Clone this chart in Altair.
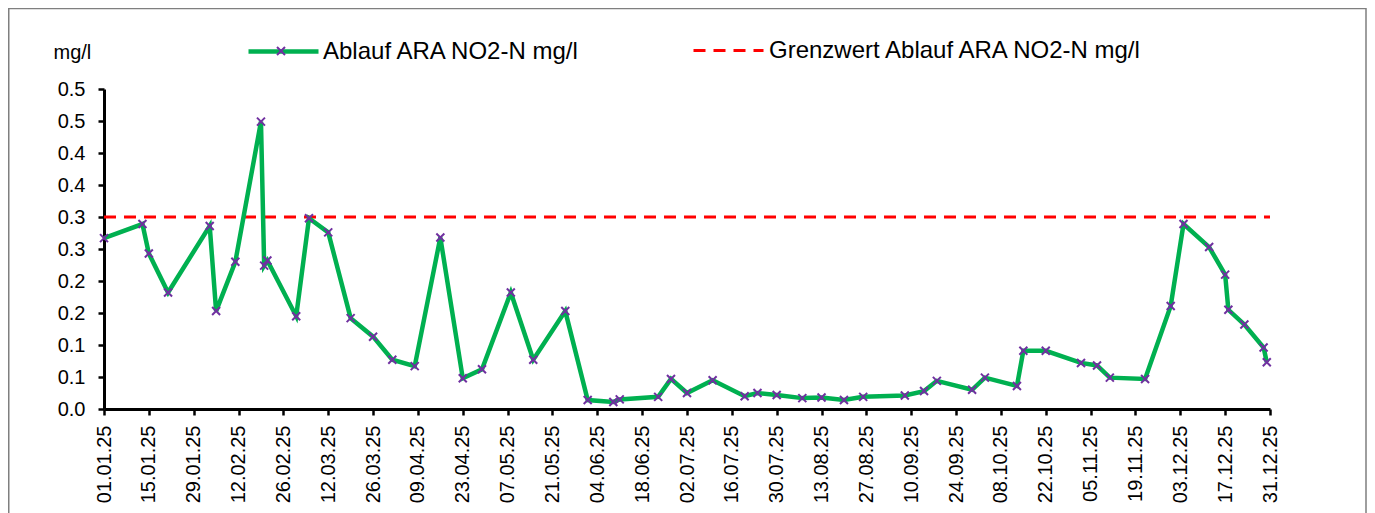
import altair as alt
import pandas as pd

# ---------------- data ----------------
dates = [
    "2025-01-01", "2025-01-13", "2025-01-15", "2025-01-21", "2025-02-03", "2025-02-05",
    "2025-02-11", "2025-02-19", "2025-02-20", "2025-02-21", "2025-03-02", "2025-03-06",
    "2025-03-12", "2025-03-19", "2025-03-26", "2025-04-01", "2025-04-08", "2025-04-16",
    "2025-04-23", "2025-04-29", "2025-05-08", "2025-05-15", "2025-05-25", "2025-06-01",
    "2025-06-09", "2025-06-11", "2025-06-23", "2025-06-27", "2025-07-02", "2025-07-10",
    "2025-07-20", "2025-07-24", "2025-07-30", "2025-08-07", "2025-08-13", "2025-08-20",
    "2025-08-26", "2025-09-08", "2025-09-14", "2025-09-18", "2025-09-29", "2025-10-03",
    "2025-10-13", "2025-10-15", "2025-10-22", "2025-11-02", "2025-11-07", "2025-11-11",
    "2025-11-22", "2025-11-30", "2025-12-04", "2025-12-12", "2025-12-17", "2025-12-18",
    "2025-12-23", "2025-12-29", "2025-12-30",
]
values = [
    0.267, 0.289, 0.243, 0.182, 0.286, 0.153, 0.230, 0.449, 0.224, 0.232,
    0.145, 0.298, 0.276, 0.142, 0.113, 0.077, 0.067, 0.268, 0.048, 0.062,
    0.182, 0.077, 0.153, 0.014, 0.011, 0.015, 0.019, 0.047, 0.025, 0.045,
    0.020, 0.025, 0.022, 0.017, 0.018, 0.014, 0.019, 0.021, 0.028, 0.044,
    0.030, 0.049, 0.036, 0.091, 0.091, 0.072, 0.068, 0.049, 0.047, 0.161,
    0.289, 0.253, 0.210, 0.155, 0.132, 0.096, 0.073,
]
limit_dates = ["2025-01-01", "2025-12-31"]
limit_values = [0.3, 0.3]

series_name = "Ablauf ARA NO2-N mg/l"
limit_name = "Grenzwert Ablauf ARA NO2-N mg/l"
y_title = "mg/l"

x_tick_labels = [
    "01.01.25", "15.01.25", "29.01.25", "12.02.25", "26.02.25", "12.03.25", "26.03.25",
    "09.04.25", "23.04.25", "07.05.25", "21.05.25", "04.06.25", "18.06.25", "02.07.25",
    "16.07.25", "30.07.25", "13.08.25", "27.08.25", "10.09.25", "24.09.25", "08.10.25",
    "22.10.25", "05.11.25", "19.11.25", "03.12.25", "17.12.25", "31.12.25",
]
y_ticks = [0.0, 0.05, 0.1, 0.15, 0.2, 0.25, 0.3, 0.35, 0.4, 0.45, 0.5]

# ---------------- helpers ----------------
def to_dt(lbl):
    d, m, y = lbl.split(".")
    return alt.DateTime(year=2000 + int(y), month=int(m), date=int(d), utc=True)

x_values = [to_dt(l) for l in x_tick_labels]

FONT = "Liberation Sans"
GREEN = "#00B050"
PURPLE = "#7030A0"
RED = "#FF0000"
XPATH = "M-1,-1L1,1M-1,1L1,-1"

df = pd.DataFrame({"date": dates, "value": values})
df["s1"] = series_name
df["s3"] = series_name
limit_df = pd.DataFrame({"date": limit_dates, "value": limit_values, "s2": limit_name})
frame_df = pd.DataFrame({"a": [0]})

x_enc = alt.X(
    "date:T",
    scale=alt.Scale(type="utc", domain=[to_dt(x_tick_labels[0]), to_dt(x_tick_labels[-1])]),
    axis=alt.Axis(
        values=x_values, format="%d.%m.%y", labelAngle=-90, labelFontSize=20,
        labelPadding=10, tickSize=6, tickWidth=2.5, domainWidth=3, title=None,
        grid=False, labelOverlap=False, labelColor="black", domainColor="black",
        tickColor="black", labelFont=FONT,
    ),
)
y_enc = alt.Y(
    "value:Q",
    scale=alt.Scale(domain=[0, 0.5], nice=False),
    axis=alt.Axis(
        values=y_ticks,
        labelExpr="format(round(datum.value*10+1e-6)/10, '.1f')",
        title=y_title, titleAngle=0, titleX=-51, titleY=-37, titleAlign="left",
        titleBaseline="middle", titleFontSize=20, titleFontWeight="normal",
        titleColor="black", titleFont=FONT,
        labelFontSize=20, labelPadding=13, tickSize=6, tickWidth=2.5, domainWidth=3,
        grid=False, labelColor="black", domainColor="black", tickColor="black",
        labelFont=FONT,
    ),
)

frame = alt.Chart(frame_df).mark_rect(
    fillOpacity=0, stroke="#7f7f7f", strokeWidth=1.5
).encode(
    x=alt.value(-95.25), x2=alt.value(1262), y=alt.value(-80.5), y2=alt.value(700)
)

limit = alt.Chart(limit_df).mark_line(color=RED, strokeWidth=3).encode(
    x=x_enc, y=y_enc,
    strokeDash=alt.StrokeDash(
        "s2:N",
        scale=alt.Scale(domain=[limit_name], range=[[12, 8]]),
        legend=alt.Legend(
            orient="none", legendX=588, legendY=-75, title=None,
            symbolType="stroke", symbolSize=4900, symbolStrokeWidth=3,
            symbolStrokeColor=RED, labelFontSize=24, labelFont=FONT,
            labelColor="black", labelOffset=4, labelLimit=1000,
        ),
    ),
)

line = alt.Chart(df).mark_line(strokeWidth=4.5).encode(
    x=x_enc, y=y_enc,
    color=alt.Color(
        "s1:N",
        scale=alt.Scale(domain=[series_name], range=[GREEN]),
        legend=alt.Legend(
            orient="none", legendX=142, legendY=-75, title=None,
            symbolType="stroke", symbolSize=4900, symbolStrokeWidth=4.5,
            labelFontSize=24, labelFont=FONT, labelColor="black",
            labelOffset=2, labelLimit=1000,
        ),
    ),
)

points = alt.Chart(df).mark_point(
    filled=False, strokeWidth=2, color=PURPLE, size=64, opacity=1
).encode(
    x=x_enc, y=y_enc,
    shape=alt.Shape(
        "s3:N",
        scale=alt.Scale(domain=[series_name], range=[XPATH]),
        legend=alt.Legend(
            orient="none", legendX=172, legendY=-43, title=None,
            symbolSize=64, symbolStrokeWidth=2, symbolStrokeColor=PURPLE,
            symbolFillColor="transparent", labelFontSize=1, labelExpr="''",
        ),
    ),
)

chart = alt.layer(frame, limit, line, points).resolve_legend(
    color="independent", shape="independent", strokeDash="independent"
).properties(
    width=1166, height=320,
    autosize=alt.AutoSizeParams(type="none"),
    padding={"left": 96, "top": 81, "right": 97, "bottom": 104},
).configure(font=FONT).configure_view(stroke=None)

chart.save("out.html", embed_options={"renderer": "svg", "actions": False})
